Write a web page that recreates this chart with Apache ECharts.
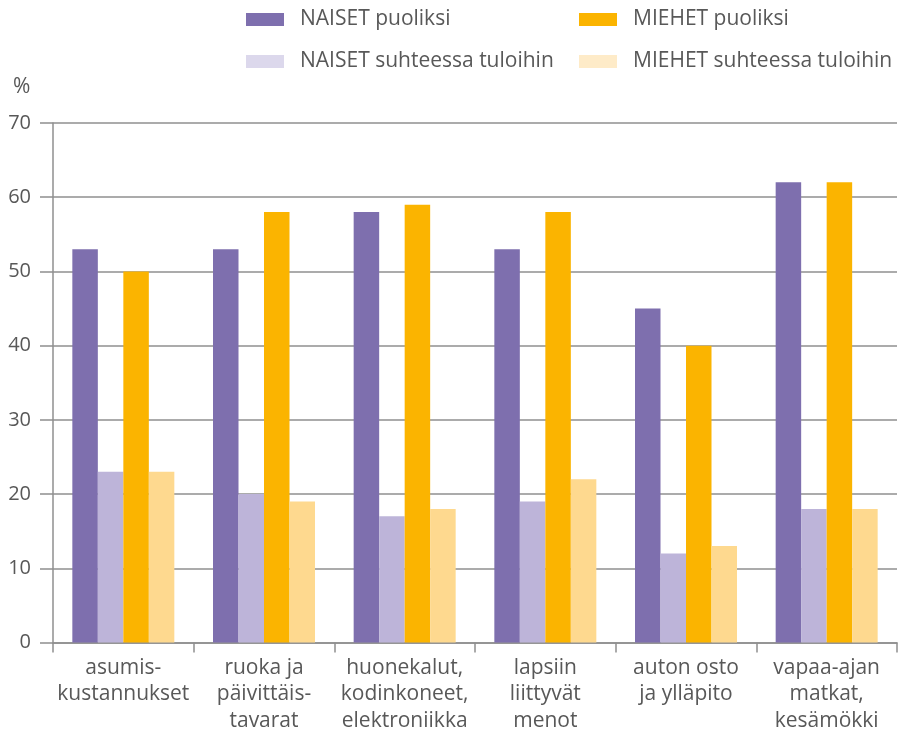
<!DOCTYPE html>
<html><head><meta charset="utf-8">
<script src="https://cdn.jsdelivr.net/npm/echarts@6/dist/echarts.min.js"></script>
<style>html,body{margin:0;padding:0;background:#fff}#c{width:907px;height:734px}</style>
</head><body><div id="c"></div>
<script>
const categories = ['asumis-\nkustannukset','ruoka ja\npäivittäis-\ntavarat','huonekalut,\nkodinkoneet,\nelektroniikka','lapsiin\nliittyvät\nmenot','auton osto\nja ylläpito','vapaa-ajan\nmatkat,\nkesämökki'];
const seriesNames = ['NAISET puoliksi','NAISET suhteessa tuloihin','MIEHET puoliksi','MIEHET suhteessa tuloihin'];
const naisetPuoliksi = [53,53,58,53,45,62];
const naisetSuhteessa = [23,20,17,19,12,18];
const miehetPuoliksi = [50,58,59,58,40,62];
const miehetSuhteessa = [23,19,18,22,13,18];
const yTicks = [0,10,20,30,40,50,60,70];
const colors = ['#7e6fae','#bdb4d9','#fbb400','#fed98f'];
const legendColors = ['#7e6fae','#dcd8ec','#fbb400','#feebc8'];
const values = [naisetPuoliksi, naisetSuhteessa, miehetPuoliksi, miehetSuhteessa];
const font = 'Open Sans';
const textColor = '#585858';
const axisColor = '#8f8f8f';
const chart = echarts.init(document.getElementById('c'));
const legendText = {fontFamily: font, fontSize: 21, color: textColor, padding: [0, 0, 0, 11]};
const legendPos = [[246, 9], [246, 51], [579, 9], [579, 51]];
chart.setOption({
  animation: false,
  color: colors,
  textStyle: {fontFamily: font},
  legend: seriesNames.map((n, i) => ({
    data: [{name: n, itemStyle: {color: legendColors[i]}}],
    left: legendPos[i][0], top: legendPos[i][1],
    itemWidth: 38, itemHeight: 13, textStyle: legendText, icon: 'rect',
    selectedMode: false, padding: 0
  })),
  graphic: [{type: 'text', left: 13, top: 77, style: {text: '%', fontFamily: font, fontSize: 21, fill: textColor}}],
  grid: {left: 53, right: 10, top: 123, bottom: 89, containLabel: false},
  xAxis: {
    type: 'category', data: categories,
    axisLine: {lineStyle: {color: axisColor, width: 1.5}},
    axisTick: {show: true, length: 10, lineStyle: {color: axisColor, width: 1.5}},
    axisLabel: {fontFamily: font, fontSize: 21, color: textColor, lineHeight: 26.5, margin: 12, interval: 0}
  },
  yAxis: {
    type: 'value', min: 0, max: 70, interval: 10,
    axisLine: {show: true, lineStyle: {color: axisColor, width: 1.5}},
    axisTick: {show: true, length: 13, lineStyle: {color: axisColor, width: 1.5}},
    axisLabel: {fontFamily: font, fontSize: 20, color: textColor, margin: 22, formatter: v => yTicks.includes(v) ? String(v) : ''},
    splitLine: {show: true, lineStyle: {color: axisColor, width: 1.5}}
  },
  series: seriesNames.map((n, i) => ({
    name: n, type: 'bar', data: values[i], barWidth: 25.5, barGap: '0%',
    itemStyle: {color: colors[i]}
  }))
});
</script></body></html>
